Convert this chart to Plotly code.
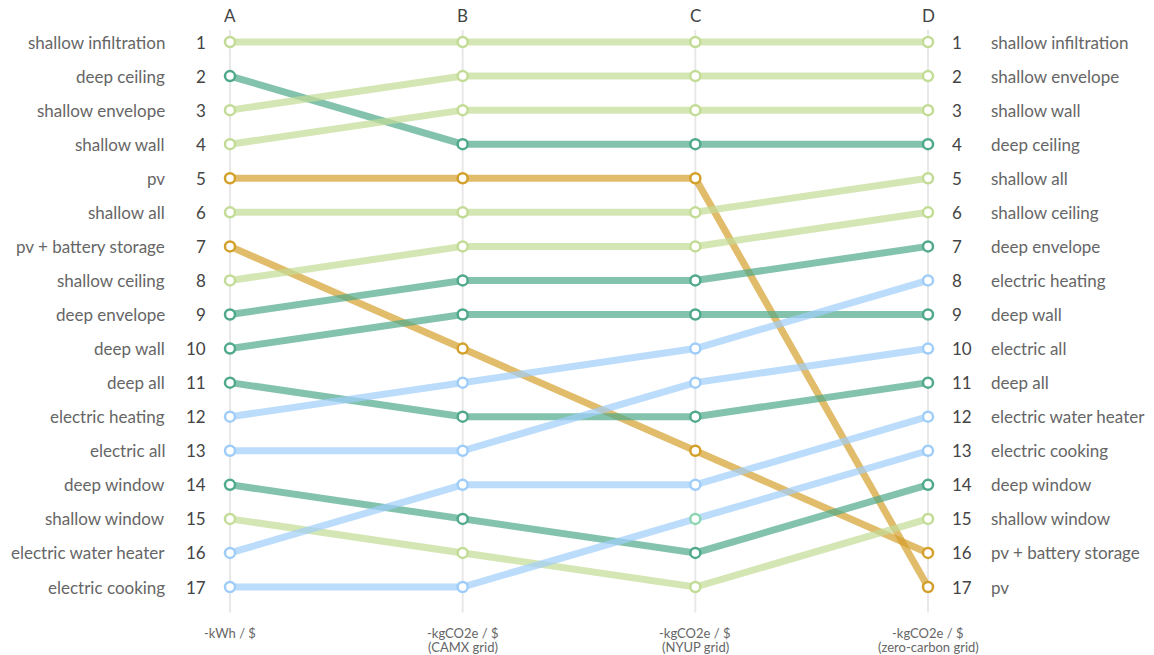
import plotly.graph_objects as go

columns = ["A", "B", "C", "D"]
column_titles = ["-kWh / $", "-kgCO2e / $<br>(CAMX grid)", "-kgCO2e / $<br>(NYUP grid)",
                 "-kgCO2e / $<br>(zero-carbon grid)"]

series_names = ["shallow infiltration", "deep ceiling", "shallow envelope", "shallow wall", "pv",
                "shallow all", "pv + battery storage", "shallow ceiling", "deep envelope", "deep wall",
                "deep all", "electric heating", "electric all", "deep window", "shallow window",
                "electric water heater", "electric cooking"]
series_groups = ["shallow", "deep", "shallow", "shallow", "pv",
                 "shallow", "pv", "shallow", "deep", "deep",
                 "deep", "electric", "electric", "deep", "shallow",
                 "electric", "electric"]
ranks = [
    [1, 1, 1, 1],
    [2, 4, 4, 4],
    [3, 2, 2, 2],
    [4, 3, 3, 3],
    [5, 5, 5, 17],
    [6, 6, 6, 5],
    [7, 10, 13, 16],
    [8, 7, 7, 6],
    [9, 8, 8, 7],
    [10, 9, 9, 9],
    [11, 12, 12, 11],
    [12, 11, 10, 8],
    [13, 13, 11, 10],
    [14, 15, 16, 14],
    [15, 16, 17, 15],
    [16, 14, 14, 12],
    [17, 17, 15, 13],
]

group_colors = {
    "shallow": (195, 220, 149),
    "deep": (79, 169, 138),
    "pv": (212, 160, 44),
    "electric": (159, 205, 250),
}
marker_overrides = {("electric cooking", 2): (140, 214, 180)}

FONT = "Lato, 'Noto Sans', sans-serif"
xs = list(range(len(columns)))
fig = go.Figure()

for x in xs:
    fig.add_shape(type="line", x0=x, x1=x, y0=0.65, y1=17.75, xref="x", yref="y",
                  line=dict(color="#e8e8e8", width=2), layer="below")

for name, grp, r in zip(series_names, series_groups, ranks):
    c = group_colors[grp]
    fig.add_trace(go.Scatter(x=xs, y=r, mode="lines", hoverinfo="skip", showlegend=False,
                             line=dict(color=f"rgba({c[0]},{c[1]},{c[2]},0.7)", width=7)))
for name, grp, r in zip(series_names, series_groups, ranks):
    cols = []
    for i in range(len(r)):
        c = marker_overrides.get((name, i), group_colors[grp])
        cols.append(f"rgb({c[0]},{c[1]},{c[2]})")
    fig.add_trace(go.Scatter(x=xs, y=r, mode="markers", name=name, showlegend=False,
                             marker=dict(size=10, color="white", symbol="circle",
                                         line=dict(color=cols, width=2.5))))

ann = []
first = {r[0]: n for n, r in zip(series_names, ranks)}
last = {r[-1]: n for n, r in zip(series_names, ranks)}
for k in range(1, len(series_names) + 1):
    ann.append(dict(x=0, y=k, text=first[k], xanchor="right", xshift=-63, showarrow=False,
                    font=dict(family=FONT, size=17, color="#666666")))
    ann.append(dict(x=0, y=k, text=str(k), xanchor="right", xshift=-22, showarrow=False,
                    font=dict(family=FONT, size=17, color="#444444")))
    ann.append(dict(x=xs[-1], y=k, text=str(k), xanchor="left", xshift=22, showarrow=False,
                    font=dict(family=FONT, size=17, color="#444444")))
    ann.append(dict(x=xs[-1], y=k, text=last[k], xanchor="left", xshift=61, showarrow=False,
                    font=dict(family=FONT, size=17, color="#666666")))
for x, col, t in zip(xs, columns, column_titles):
    ann.append(dict(x=x, y=0.65, text=col, yanchor="bottom", yshift=2, showarrow=False,
                    font=dict(family=FONT, size=17, color="#444444")))
    for j, line in enumerate(t.split("<br>")):
        ann.append(dict(x=x, y=17.75, text=line, yanchor="middle", yshift=-20 - 14 * j,
                        showarrow=False, font=dict(family=FONT, size=13, color="#666666")))

fig.update_layout(
    width=1146, height=647, margin=dict(l=0, r=0, t=0, b=0),
    paper_bgcolor="white", plot_bgcolor="white",
    xaxis=dict(range=[-0.9541, 3.9713], visible=False, fixedrange=True),
    yaxis=dict(range=[18.996, 0.00183], visible=False, fixedrange=True),
    annotations=ann,
)
fig.write_html("out.html")
